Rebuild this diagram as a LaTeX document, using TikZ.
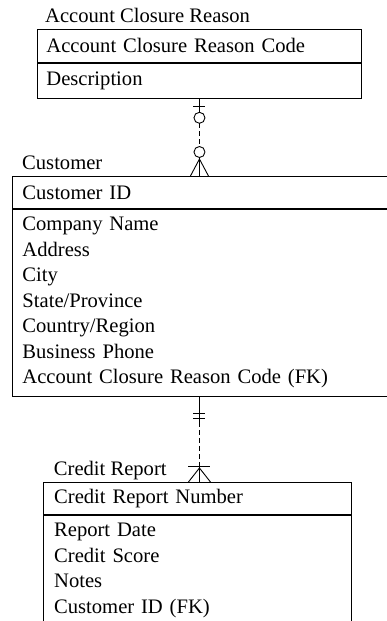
\documentclass[tikz,border=0pt]{standalone}
\usepackage{fontspec}
\setmainfont{Liberation Serif}
\usetikzlibrary{calc}

\tikzset{
  entbox/.style={draw, line width=0.9pt, anchor=north west, align=left,
    inner xsep=9pt, inner ysep=0pt, font=\fontsize{20.6}{25.5}\selectfont},
  enttitle/.style={anchor=base west, inner sep=0pt, font=\fontsize{20.6}{25.5}\selectfont},
  rel/.style={line width=0.9pt},
  reldash/.style={rel, dash pattern=on 5pt off 3pt}
}

\begin{document}
\begin{tikzpicture}[x=1pt, y=-1pt]
\useasboundingbox (0,0) rectangle (387,621);
\clip (0,0) rectangle (387,621);

% Account Closure Reason
\node[entbox, text width=306pt, minimum height=33pt] (acrHead) at (37,29) {Account Closure Reason Code};
\node[entbox, text width=306pt, minimum height=35pt] (acrBody) at (acrHead.south west) {Description};
\node[enttitle] (acrTitle) at ($(acrHead.north west)+(8,-7)$) {Account Closure Reason};

% Customer
\node[entbox, inner xsep=10pt, text width=370pt, minimum height=32pt] (cusHead) at (12,176) {Customer ID};
\node[entbox, inner xsep=10pt, text width=370pt, minimum height=187pt] (cusBody) at (cusHead.south west)
  {Company Name\\ Address\\ City\\ State/Province\\ Country/Region\\ Business Phone\\ Account Closure Reason Code (FK)};
\node[enttitle] (cusTitle) at ($(cusHead.north west)+(10,-7)$) {Customer};

% Credit Report
\node[entbox, inner xsep=11pt, text width=286pt, minimum height=32pt] (crHead) at (42.7,482) {Credit Report Number};
\node[entbox, inner xsep=11pt, text width=286pt, minimum height=110pt] (crBody) at (crHead.south west)
  {Report Date\\ Credit Score\\ Notes\\ Customer ID (FK)};
\node[enttitle] (crTitle) at ($(crHead.north west)+(11,-7)$) {Credit Report};

% Account Closure Reason -> Customer (zero or one to zero or many)
\coordinate (r1s) at (acrBody.south);
\coordinate (r1e) at (acrBody.south |- cusHead.north);
\draw[rel] (r1s) -- ++(0,13.5);
\draw[rel] ($(r1s)+(-6,8)$) -- ++(12,0);
\draw[rel] ($(r1s)+(0,19)$) circle (5.5pt);
\draw[reldash] ($(r1s)+(0,24.5)$) -- ($(r1e)+(0,-29.5)$);
\draw[rel] ($(r1e)+(0,-24)$) circle (5.5pt);
\draw[rel] ($(r1e)+(0,-18.5)$) -- (r1e);
\draw[rel] ($(r1e)+(0,-17)$) -- ($(r1e)+(-9,0)$);
\draw[rel] ($(r1e)+(0,-17)$) -- ($(r1e)+(9,0)$);

% Customer -> Credit Report (exactly one to one or many)
\coordinate (r2s) at (cusBody.south -| r1s);
\coordinate (r2e) at (r2s |- crHead.north);
\draw[rel] (r2s) -- ++(0,25);
\draw[rel] ($(r2s)+(-6,17)$) -- ++(12,0);
\draw[rel] ($(r2s)+(-6,22)$) -- ++(12,0);
\draw[reldash] ($(r2s)+(0,25)$) -- ($(r2e)+(0,-16)$);
\draw[rel] ($(r2e)+(-11,-16)$) -- ++(22,0);
\draw[rel] ($(r2e)+(0,-16)$) -- (r2e);
\draw[rel] ($(r2e)+(0,-14)$) -- ($(r2e)+(-11,0)$);
\draw[rel] ($(r2e)+(0,-14)$) -- ($(r2e)+(11,0)$);

\end{tikzpicture}
\end{document}
